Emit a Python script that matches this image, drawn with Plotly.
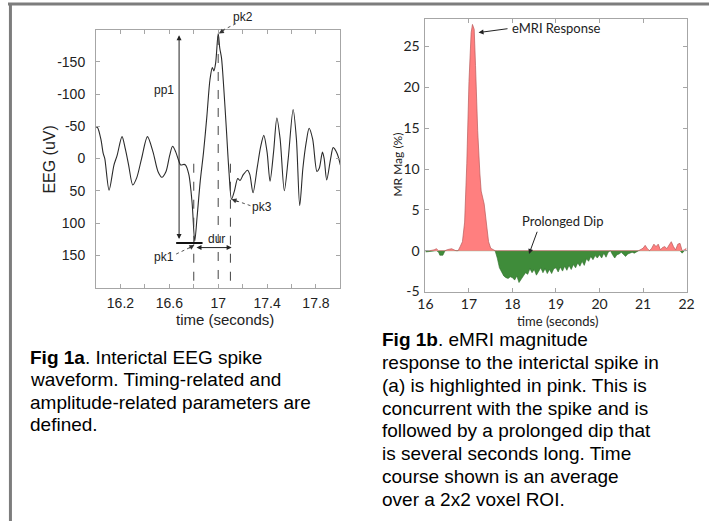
import plotly.graph_objects as go
import numpy as np

W, H = 717, 529

# ---------------- Fig 1a : EEG spike waveform ----------------
eeg_time = [16.000, 16.013, 16.040, 16.059, 16.072, 16.107, 16.147, 16.173, 16.213, 16.240,
            16.267, 16.301, 16.333, 16.373, 16.421, 16.467, 16.507, 16.539, 16.573, 16.603,
            16.627, 16.653, 16.680, 16.693, 16.720, 16.733, 16.760, 16.787, 16.808, 16.827,
            16.853, 16.880, 16.907, 16.933, 16.952, 16.965, 16.979, 17.000, 17.013, 17.027,
            17.045, 17.067, 17.088, 17.109, 17.133, 17.160, 17.179, 17.205, 17.240, 17.259,
            17.285, 17.320, 17.347, 17.373, 17.400, 17.424, 17.453, 17.480, 17.507, 17.541,
            17.573, 17.613, 17.640, 17.667, 17.693, 17.720, 17.744, 17.773, 17.808, 17.827,
            17.853, 17.867, 17.888, 17.920, 17.941, 17.973, 18.000]
eeg_uv = [-49, -48, -30, -8, 0, 49, 10, -5, -34, -15,
          10, 41, 30, 0, -34, -10, 20, 29, 20, -5,
          -19, -10, 5, 10, 9, 10, 25, 70, 128, 91,
          35, -10, -65, -123, -141, -136, -148, -194, -171, -156,
          -111, -45, 20, 63, 50, 31, 34, 25, 18, 25,
          53, 13, -18, -36, -10, 35, -10, -63, -30, 50,
          0, -76, -30, 73, 15, -25, -47, -30, 20, 15,
          -10, 0, 33, 0, -17, -8, 10]

eeg_xtick_vals = [16.2, 16.6, 17.0, 17.4, 17.8]
eeg_xtick_text = ["16.2", "16.6", "17", "17.4", "17.8"]
eeg_xminor_vals = [16.4, 16.8, 17.2, 17.6]
eeg_ytick_vals = [-150, -100, -50, 0, 50, 100, 150]
eeg_ytick_text = ["-150", "-100", "-50", "0", "50", "100", "150"]

# spike parameter markers
pk1_time, pk1_uv = 16.808, 128
pk2_time, pk2_uv = 17.0, -194
pk3_time, pk3_uv = 17.109, 63
dashed_times = [16.8, 17.0, 17.1]
dashed_tops = [8, -190, 8]

# ---------------- Fig 1b : eMRI magnitude ----------------
mr_time = [16.00, 16.10, 16.20, 16.25, 16.30, 16.33, 16.40, 16.45, 16.50, 16.60,
           16.70, 16.75, 16.80, 16.85, 16.90, 16.95, 17.00, 17.05, 17.08, 17.12,
           17.15, 17.20, 17.25, 17.28, 17.35, 17.40, 17.45, 17.50, 17.60, 17.65,
           17.70, 17.75, 17.80, 17.85, 17.90, 17.95, 18.00, 18.05, 18.10, 18.15,
           18.20, 18.25, 18.30, 18.35, 18.40, 18.45, 18.50, 18.55, 18.60, 18.65,
           18.70, 18.75, 18.80, 18.85, 18.90, 18.95, 19.00, 19.05, 19.10, 19.15,
           19.20, 19.25, 19.30, 19.35, 19.40, 19.45, 19.50, 19.55, 19.60, 19.65,
           19.70, 19.75, 19.80, 19.85, 19.90, 19.95, 20.00, 20.05, 20.10, 20.15,
           20.20, 20.25, 20.30, 20.35, 20.40, 20.45, 20.50, 20.55, 20.60, 20.65,
           20.70, 20.75, 20.80, 20.85, 20.90, 21.00, 21.05, 21.10, 21.15, 21.20,
           21.25, 21.30, 21.35, 21.40, 21.45, 21.50, 21.55, 21.60, 21.65, 21.70,
           21.75, 21.80, 21.85, 21.90, 21.95, 22.00]
mr_mag = [-0.16, -0.1, 0.1, 0.24, -0.16, -0.56, -0.56, 0.0, 0.12, 0.24,
          0.0, -0.08, 0.52, 1.1, 3.5, 10.7, 20.7, 26.7, 27.7, 27.1,
          22.7, 14.7, 9.5, 7.3, 5.7, 3.1, 1.1, 0.3, 0.0, -0.9,
          -2.1, -2.6, -3.1, -3.3, -3.4, -3.2, -3.3, -3.6, -3.1, -3.9,
          -3.5, -3.1, -2.7, -2.9, -2.2, -2.7, -2.3, -3.0, -2.5, -2.1,
          -2.7, -2.2, -2.8, -2.3, -2.8, -2.2, -2.1, -2.6, -2.0, -2.5,
          -1.9, -2.4, -1.8, -2.3, -1.7, -2.1, -1.5, -1.9, -1.3, -1.8,
          -1.0, -1.3, -0.7, -1.1, -0.6, -0.9, -0.5, -0.9, -0.3, -0.8,
          -0.2, 0.0, -0.5, -0.9, -0.5, -0.4, -0.2, -0.4, -0.7, -0.4,
          -0.3, -0.2, -0.3, -0.1, 0.0, 0.3, 0.65, 0.25, 0.0, 0.3,
          0.8, 0.5, 0.8, 0.1, 0.4, 0.5, 0.25, 0.7, 1.1, 0.5,
          0.1, 0.8, 0.9, -0.3, 0.1, 0.3]

mr_xtick_vals = [16, 17, 18, 19, 20, 21, 22]
mr_xtick_text = ["16", "17", "18", "19", "20", "21", "22"]
mr_ytick_vals = [-5, 0, 5, 10, 15, 20, 25]
mr_ytick_text = ["-5", "0", "5", "10", "15", "20", "25"]

caption_a = ["<b>Fig 1a</b>. Interictal EEG spike",
             "waveform. Timing-related and",
             "amplitude-related parameters are",
             "defined."]
caption_b = ["<b>Fig 1b</b>. eMRI magnitude",
             "response to the interictal spike in",
             "(a) is highlighted in pink. This is",
             "concurrent with the spike and is",
             "followed by a prolonged dip that",
             "is several seconds long. Time",
             "course shown is an average",
             "over a 2x2 voxel ROI."]

# ---------------- layout geometry ----------------
L_XDOM = [90 / W, 340 / W]
L_YDOM = [1 - 292 / H, 1 - 30 / H]
L_XRANGE = [16.0, 18.0]
L_YRANGE = [200, -200]
R_XDOM = [427 / W, 694 / W]
R_YDOM = [1 - 296 / H, 1 - 19 / H]
R_XRANGE = [16, 22]
R_YRANGE = [-5, 28.4]


def lpx(t):
    return L_XDOM[0] + (t - L_XRANGE[0]) / (L_XRANGE[1] - L_XRANGE[0]) * (L_XDOM[1] - L_XDOM[0])


def lpy(v):
    return L_YDOM[0] + (L_YRANGE[0] - v) / (L_YRANGE[0] - L_YRANGE[1]) * (L_YDOM[1] - L_YDOM[0])


AX_COL = "#a6a6a6"
LFONT = "Liberation Sans, Arial, sans-serif"
RFONT = "Lato, Noto Sans, sans-serif"

fig = go.Figure()

fig.add_trace(go.Scatter(x=eeg_time, y=eeg_uv, mode="lines",
                         line=dict(color="#2b2b2b", width=1.1, shape="spline", smoothing=0.8),
                         xaxis="x", yaxis="y", hoverinfo="skip", showlegend=False))

mr_arr = np.array(mr_mag)
mr_pos = np.where(mr_arr > 0, mr_arr, 0.0)
mr_neg = np.where(mr_arr < 0, mr_arr, 0.0)
fig.add_trace(go.Scatter(x=mr_time, y=mr_neg, mode="lines", fill="tozeroy",
                         fillcolor="#3f8c3a", line=dict(color="#2f6e2b", width=0.6),
                         xaxis="x2", yaxis="y2", hoverinfo="skip", showlegend=False))
fig.add_trace(go.Scatter(x=mr_time, y=mr_pos, mode="lines", fill="tozeroy",
                         fillcolor="#ff7f7f", line=dict(color="#b85a5a", width=0.7),
                         xaxis="x2", yaxis="y2", hoverinfo="skip", showlegend=False))

shapes = []
# outer page frame (top + left border)
shapes.append(dict(type="line", xref="paper", yref="paper", x0=0, x1=1, y0=1 - 4 / H, y1=1 - 4 / H,
                   line=dict(color="#7d7d7d", width=3)))
shapes.append(dict(type="line", xref="paper", yref="paper", x0=2.5 / W, x1=2.5 / W, y0=0, y1=1 - 4 / H,
                   line=dict(color="#7d7d7d", width=3)))
# dashed timing lines
for tt, top in zip(dashed_times, dashed_tops):
    shapes.append(dict(type="line", xref="x", yref="y", x0=tt, x1=tt, y0=top, y1=200,
                       line=dict(color="#444444", width=1, dash="dash")))
# pk1 baseline
shapes.append(dict(type="line", xref="x", yref="y", x0=16.656, x1=16.872, y0=131, y1=131,
                   line=dict(color="#111111", width=2)))
# dotted leader lines
shapes.append(dict(type="line", xref="x", yref="y", x0=16.656, y0=148, x1=16.79, y1=136,
                   line=dict(color="#555555", width=1, dash="dot")))
shapes.append(dict(type="line", xref="x", yref="y", x0=17.264, y0=73, x1=17.125, y1=64,
                   line=dict(color="#555555", width=1, dash="dot")))
shapes.append(dict(type="line", xref="paper", yref="paper", x0=lpx(17.144), y0=lpy(-209),
                   x1=lpx(17.015), y1=lpy(-197),
                   line=dict(color="#555555", width=1, dash="dot")))

ann = []
small = dict(family=LFONT, size=12, color="#222")
C = dict(xanchor="center", yanchor="middle", showarrow=False)
# pp1
ann.append(dict(x=16.68, y=-191, ax=16.68, ay=127, xref="x", yref="y", axref="x", ayref="y",
                text="", showarrow=True, arrowhead=2, arrowside="end+start", arrowsize=1,
                arrowwidth=1, arrowcolor="#222"))
ann.append(dict(x=16.56, y=-107, xref="x", yref="y", text="pp1", font=small, **C))
# dur
ann.append(dict(x=17.11, y=138, ax=16.81, ay=138, xref="x", yref="y", axref="x", ayref="y",
                text="", showarrow=True, arrowhead=2, arrowside="end+start", arrowsize=1,
                arrowwidth=1, arrowcolor="#222"))
ann.append(dict(x=16.99, y=125, xref="x", yref="y", text="dur", font=small, **C))
# pk labels with arrowheads
ann.append(dict(x=16.56, y=152, xref="x", yref="y", text="pk1", font=small, **C))
ann.append(dict(x=pk1_time - 0.003, y=134, xref="x", yref="y", ax=-7, ay=4, text="",
                showarrow=True, arrowhead=2, arrowsize=1, arrowwidth=1, arrowcolor="#333"))
ann.append(dict(x=17.36, y=75, xref="x", yref="y", text="pk3", font=small, **C))
ann.append(dict(x=pk3_time, y=pk3_uv, xref="x", yref="y", ax=8, ay=3, text="",
                showarrow=True, arrowhead=2, arrowsize=1, arrowwidth=1, arrowcolor="#333"))
ann.append(dict(x=lpx(17.2), y=lpy(-219), xref="paper", yref="paper", text="pk2", font=small, **C))
ann.append(dict(x=pk2_time + 0.005, y=pk2_uv, xref="x", yref="y", ax=7, ay=-4, text="",
                showarrow=True, arrowhead=2, arrowsize=1, arrowwidth=1, arrowcolor="#333"))
# left axis titles
ann.append(dict(x=42 / W, y=1 - 162 / H, xref="paper", yref="paper", text="EEG (uV)", textangle=-90,
                font=dict(family=LFONT, size=16, color="#222"), **C))
ann.append(dict(x=222 / W, y=1 - 324 / H, xref="paper", yref="paper", text="time (seconds)",
                font=dict(family=LFONT, size=15, color="#222"), **C))

# right panel annotations
ann.append(dict(x=17.22, y=26.7, ax=17.92, ay=27.2, xref="x2", yref="y2", axref="x2", ayref="y2",
                text="", showarrow=True, arrowhead=2, arrowsize=1, arrowwidth=1, arrowcolor="#222"))
ann.append(dict(x=17.95, y=27.3, xref="x2", yref="y2", xanchor="left", yanchor="middle",
                text="eMRI Response", showarrow=False, font=dict(family=RFONT, size=13, color="#222")))
ann.append(dict(x=18.38, y=-0.4, ax=18.58, ay=2.5, xref="x2", yref="y2", axref="x2", ayref="y2",
                text="", showarrow=True, arrowhead=2, arrowsize=1, arrowwidth=1, arrowcolor="#222"))
ann.append(dict(x=19.15, y=3.6, xref="x2", yref="y2", text="Prolonged Dip",
                font=dict(family=RFONT, size=13, color="#222"), **C))
ann.append(dict(x=398 / W, y=1 - 167 / H, xref="paper", yref="paper", text="MR Mag (%)", textangle=-90,
                font=dict(family=RFONT, size=12, color="#222"), **C))
ann.append(dict(x=562 / W, y=1 - 316 / H, xref="paper", yref="paper", text="time (seconds)",
                xanchor="center", yanchor="top", showarrow=False,
                font=dict(family=RFONT, size=13, color="#222")))

# captions, one annotation per line
cap_font = dict(family=LFONT, size=19, color="#000")
for i, line in enumerate(caption_a):
    ann.append(dict(x=20 / W, y=1 - (363 + 22.7 * i) / H, xref="paper", yref="paper",
                    xanchor="left", yanchor="middle", align="left", showarrow=False,
                    font=cap_font, text=line))
for i, line in enumerate(caption_b):
    ann.append(dict(x=381 / W, y=1 - (345 + 23.1 * i) / H, xref="paper", yref="paper",
                    xanchor="left", yanchor="middle", align="left", showarrow=False,
                    font=cap_font, text=line))

axis_common = dict(showline=True, linecolor=AX_COL, linewidth=1, mirror="ticks", ticks="inside",
                   ticklen=4, tickcolor=AX_COL, showgrid=False, zeroline=False, fixedrange=True)

fig.update_layout(
    width=W, height=H, margin=dict(l=0, r=0, t=0, b=0),
    paper_bgcolor="white", plot_bgcolor="white", showlegend=False,
    xaxis=dict(domain=L_XDOM, range=L_XRANGE, anchor="y", tickmode="array",
               tickvals=eeg_xtick_vals, ticktext=eeg_xtick_text,
               minor=dict(tickmode="array", tickvals=eeg_xminor_vals, ticks="inside", ticklen=4,
                          tickcolor=AX_COL),
               tickfont=dict(family=LFONT, size=14, color="#222"), ticklabelstandoff=3,
               **axis_common),
    yaxis=dict(domain=L_YDOM, range=L_YRANGE, anchor="x", tickmode="array",
               tickvals=eeg_ytick_vals, ticktext=eeg_ytick_text,
               tickfont=dict(family=LFONT, size=14, color="#222"), ticklabelstandoff=7,
               **axis_common),
    xaxis2=dict(domain=R_XDOM, range=R_XRANGE, anchor="y2", tickmode="array",
                tickvals=mr_xtick_vals, ticktext=mr_xtick_text,
                tickfont=dict(family=RFONT, size=14, color="#222"), ticklabelstandoff=0,
                **axis_common),
    yaxis2=dict(domain=R_YDOM, range=R_YRANGE, anchor="x2", tickmode="array",
                tickvals=mr_ytick_vals, ticktext=mr_ytick_text,
                tickfont=dict(family=RFONT, size=14, color="#222"), ticklabelstandoff=2,
                **axis_common),
    shapes=shapes, annotations=ann,
)

fig.write_html("out.html", config={"displayModeBar": False},
               post_script="document.body.style.margin='0';document.body.style.overflow='hidden';")
